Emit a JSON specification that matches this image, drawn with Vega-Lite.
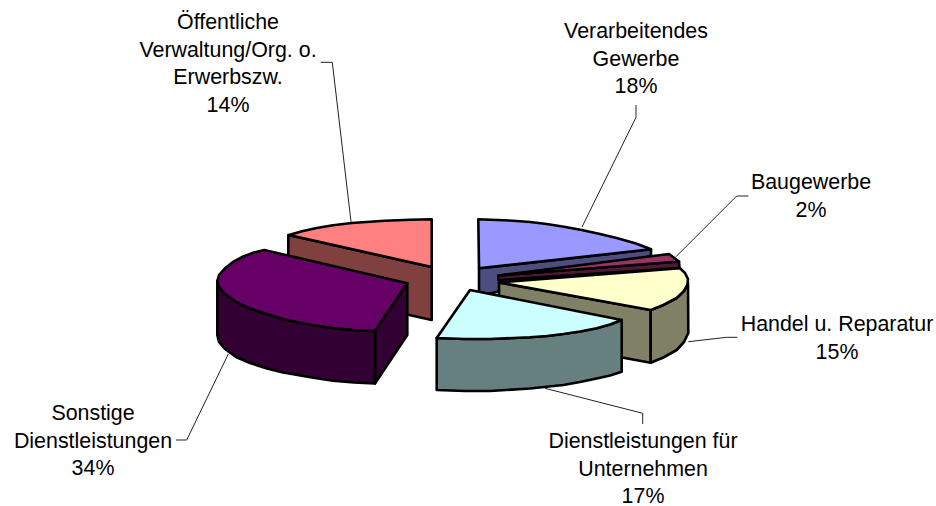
{"$schema":"https://vega.github.io/schema/vega-lite/v6.json","width":936,"height":506,"padding":0,"autosize":{"type":"none"},"background":"white","view":{"stroke":null},
"datasets":{"faces":[
{"face":"Pink side","vertex":1,"u":288.3,"v":235},{"face":"Pink side","vertex":2,"u":431.7,"v":267},{"face":"Pink side","vertex":3,"u":431.7,"v":320},{"face":"Pink side","vertex":4,"u":288.3,"v":288},
{"face":"Pink top","vertex":1,"u":431.7,"v":267},{"face":"Pink top","vertex":2,"u":431.7,"v":219.3},{"face":"Pink top","vertex":3,"u":410,"v":219.8},{"face":"Pink top","vertex":4,"u":385,"v":220.8},{"face":"Pink top","vertex":5,"u":351.7,"v":223},{"face":"Pink top","vertex":6,"u":333,"v":225.3},{"face":"Pink top","vertex":7,"u":316.7,"v":228},{"face":"Pink top","vertex":8,"u":302,"v":231.3},{"face":"Pink top","vertex":9,"u":289,"v":235},
{"face":"Blue side","vertex":1,"u":479,"v":268.3},{"face":"Blue side","vertex":2,"u":651,"v":249.3},{"face":"Blue side","vertex":3,"u":651,"v":256},{"face":"Blue side","vertex":4,"u":479,"v":296},
{"face":"Blue top","vertex":1,"u":479,"v":268.3},{"face":"Blue top","vertex":2,"u":478.3,"v":219.3},{"face":"Blue top","vertex":3,"u":513.3,"v":220.7},{"face":"Blue top","vertex":4,"u":530,"v":222},{"face":"Blue top","vertex":5,"u":546.7,"v":224},{"face":"Blue top","vertex":6,"u":564,"v":226.7},{"face":"Blue top","vertex":7,"u":581.7,"v":230},{"face":"Blue top","vertex":8,"u":600,"v":234},{"face":"Blue top","vertex":9,"u":616.7,"v":238},{"face":"Blue top","vertex":10,"u":636,"v":243.5},{"face":"Blue top","vertex":11,"u":651,"v":249.3},
{"face":"Maroon side","vertex":1,"u":498.3,"v":275.5},{"face":"Maroon side","vertex":2,"u":679,"v":261.5},{"face":"Maroon side","vertex":3,"u":679.5,"v":268},{"face":"Maroon side","vertex":4,"u":498.3,"v":280},
{"face":"Maroon top","vertex":1,"u":498.3,"v":275.5},{"face":"Maroon top","vertex":2,"u":669,"v":254},{"face":"Maroon top","vertex":3,"u":679,"v":261.5},
{"face":"Yellow side","vertex":1,"u":499,"v":282.5},{"face":"Yellow side","vertex":2,"u":650.7,"v":310},{"face":"Yellow side","vertex":3,"u":650.7,"v":362.7},{"face":"Yellow side","vertex":4,"u":499,"v":335},
{"face":"Yellow rim","vertex":1,"u":650.7,"v":310},{"face":"Yellow rim","vertex":2,"u":663.3,"v":305},{"face":"Yellow rim","vertex":3,"u":676.7,"v":298},{"face":"Yellow rim","vertex":4,"u":684,"v":291},{"face":"Yellow rim","vertex":5,"u":688,"v":283},{"face":"Yellow rim","vertex":6,"u":688.3,"v":333},{"face":"Yellow rim","vertex":7,"u":684,"v":342},{"face":"Yellow rim","vertex":8,"u":676.7,"v":350},{"face":"Yellow rim","vertex":9,"u":663.3,"v":357.5},{"face":"Yellow rim","vertex":10,"u":650.7,"v":362.7},
{"face":"Yellow top","vertex":1,"u":499,"v":282.5},{"face":"Yellow top","vertex":2,"u":680,"v":268.3},{"face":"Yellow top","vertex":3,"u":685,"v":273},{"face":"Yellow top","vertex":4,"u":688,"v":279},{"face":"Yellow top","vertex":5,"u":687.3,"v":285},{"face":"Yellow top","vertex":6,"u":684,"v":291},{"face":"Yellow top","vertex":7,"u":676.7,"v":298},{"face":"Yellow top","vertex":8,"u":663.3,"v":305},{"face":"Yellow top","vertex":9,"u":650.7,"v":310},
{"face":"Cyan side","vertex":1,"u":436.7,"v":338},{"face":"Cyan side","vertex":2,"u":465,"v":339},{"face":"Cyan side","vertex":3,"u":490,"v":339},{"face":"Cyan side","vertex":4,"u":530,"v":337.3},{"face":"Cyan side","vertex":5,"u":547,"v":336},{"face":"Cyan side","vertex":6,"u":563.3,"v":334},{"face":"Cyan side","vertex":7,"u":580,"v":331.5},{"face":"Cyan side","vertex":8,"u":596.7,"v":328.3},{"face":"Cyan side","vertex":9,"u":610,"v":324.5},{"face":"Cyan side","vertex":10,"u":621.7,"v":320},{"face":"Cyan side","vertex":11,"u":621.7,"v":371.7},{"face":"Cyan side","vertex":12,"u":610,"v":375.5},{"face":"Cyan side","vertex":13,"u":596.7,"v":378.5},{"face":"Cyan side","vertex":14,"u":580,"v":382},{"face":"Cyan side","vertex":15,"u":563.3,"v":385},{"face":"Cyan side","vertex":16,"u":530,"v":388.5},{"face":"Cyan side","vertex":17,"u":490,"v":391},{"face":"Cyan side","vertex":18,"u":465,"v":391},{"face":"Cyan side","vertex":19,"u":436.7,"v":390},
{"face":"Cyan top","vertex":1,"u":470,"v":290},{"face":"Cyan top","vertex":2,"u":621.7,"v":320},{"face":"Cyan top","vertex":3,"u":610,"v":324.5},{"face":"Cyan top","vertex":4,"u":596.7,"v":328.3},{"face":"Cyan top","vertex":5,"u":580,"v":331.5},{"face":"Cyan top","vertex":6,"u":563.3,"v":334},{"face":"Cyan top","vertex":7,"u":547,"v":336},{"face":"Cyan top","vertex":8,"u":530,"v":337.3},{"face":"Cyan top","vertex":9,"u":490,"v":339},{"face":"Cyan top","vertex":10,"u":465,"v":339},{"face":"Cyan top","vertex":11,"u":436.7,"v":338},
{"face":"Purple side","vertex":1,"u":375,"v":331},{"face":"Purple side","vertex":2,"u":407.3,"v":283.3},{"face":"Purple side","vertex":3,"u":407.3,"v":335},{"face":"Purple side","vertex":4,"u":375,"v":383.5},
{"face":"Purple rim","vertex":1,"u":217.3,"v":281},{"face":"Purple rim","vertex":2,"u":219,"v":287},{"face":"Purple rim","vertex":3,"u":225,"v":294},{"face":"Purple rim","vertex":4,"u":236,"v":302},{"face":"Purple rim","vertex":5,"u":250,"v":308.5},{"face":"Purple rim","vertex":6,"u":267,"v":314},{"face":"Purple rim","vertex":7,"u":283,"v":319},{"face":"Purple rim","vertex":8,"u":300,"v":322.7},{"face":"Purple rim","vertex":9,"u":312,"v":325},{"face":"Purple rim","vertex":10,"u":333,"v":328},{"face":"Purple rim","vertex":11,"u":354,"v":330},{"face":"Purple rim","vertex":12,"u":375,"v":331},{"face":"Purple rim","vertex":13,"u":375,"v":383.5},{"face":"Purple rim","vertex":14,"u":354,"v":382.5},{"face":"Purple rim","vertex":15,"u":333,"v":380.7},{"face":"Purple rim","vertex":16,"u":312,"v":377.5},{"face":"Purple rim","vertex":17,"u":283,"v":372.5},{"face":"Purple rim","vertex":18,"u":267,"v":368.5},{"face":"Purple rim","vertex":19,"u":250,"v":363},{"face":"Purple rim","vertex":20,"u":236,"v":357},{"face":"Purple rim","vertex":21,"u":225,"v":349},{"face":"Purple rim","vertex":22,"u":219,"v":342},{"face":"Purple rim","vertex":23,"u":217.3,"v":335},
{"face":"Purple top","vertex":1,"u":264.3,"v":250},{"face":"Purple top","vertex":2,"u":407.3,"v":283.3},{"face":"Purple top","vertex":3,"u":375,"v":331},{"face":"Purple top","vertex":4,"u":354,"v":330},{"face":"Purple top","vertex":5,"u":333,"v":328},{"face":"Purple top","vertex":6,"u":312,"v":325},{"face":"Purple top","vertex":7,"u":300,"v":322.7},{"face":"Purple top","vertex":8,"u":283,"v":319},{"face":"Purple top","vertex":9,"u":267,"v":314},{"face":"Purple top","vertex":10,"u":250,"v":308.5},{"face":"Purple top","vertex":11,"u":236,"v":302},{"face":"Purple top","vertex":12,"u":225,"v":294},{"face":"Purple top","vertex":13,"u":219,"v":287},{"face":"Purple top","vertex":14,"u":217.3,"v":281},{"face":"Purple top","vertex":15,"u":219,"v":275},{"face":"Purple top","vertex":16,"u":225,"v":268.3},{"face":"Purple top","vertex":17,"u":233,"v":262},{"face":"Purple top","vertex":18,"u":243.3,"v":256.5},{"face":"Purple top","vertex":19,"u":254,"v":252.5}
],
"leaders":[
{"slice":"Verarbeitendes Gewerbe","vertex":1,"u":636,"v":105},{"slice":"Verarbeitendes Gewerbe","vertex":2,"u":636,"v":117.3},{"slice":"Verarbeitendes Gewerbe","vertex":3,"u":582,"v":227},
{"slice":"Baugewerbe","vertex":1,"u":748.3,"v":196},{"slice":"Baugewerbe","vertex":2,"u":736.7,"v":196},{"slice":"Baugewerbe","vertex":3,"u":676,"v":256.7},
{"slice":"Handel","vertex":1,"u":737.3,"v":337.3},{"slice":"Handel","vertex":2,"u":726.7,"v":337.3},{"slice":"Handel","vertex":3,"u":688.3,"v":341.7},
{"slice":"Dienstleistungen U","vertex":1,"u":642.7,"v":424},{"slice":"Dienstleistungen U","vertex":2,"u":642.7,"v":413.3},{"slice":"Dienstleistungen U","vertex":3,"u":545,"v":388.3},
{"slice":"Sonstige","vertex":1,"u":176,"v":440},{"slice":"Sonstige","vertex":2,"u":186.7,"v":440},{"slice":"Sonstige","vertex":3,"u":228.3,"v":354},
{"slice":"Oeffentliche","vertex":1,"u":320.7,"v":62.3},{"slice":"Oeffentliche","vertex":2,"u":332.3,"v":62.3},{"slice":"Oeffentliche","vertex":3,"u":351,"v":221.7}
],
"labels":[
{"label":"Öffentliche\nVerwaltung/Org. o.\nErwerbszw.\n14%","u":228,"v":23},
{"label":"Verarbeitendes\nGewerbe\n18%","u":636,"v":32},
{"label":"Baugewerbe\n2%","u":811,"v":183},
{"label":"Handel u. Reparatur\n15%","u":837,"v":325},
{"label":"Dienstleistungen für\nUnternehmen\n17%","u":643,"v":442},
{"label":"Sonstige\nDienstleistungen\n34%","u":93,"v":414}
]},
"layer":[
{"data":{"name":"faces"},"mark":{"type":"line","interpolate":"linear-closed","stroke":"black","strokeWidth":2.6,"strokeJoin":"round"},
"encoding":{"x":{"field":"u","type":"quantitative","scale":{"domain":[0,936],"nice":false,"zero":false},"axis":null},"y":{"field":"v","type":"quantitative","scale":{"domain":[506,0],"nice":false,"zero":false},"axis":null},"order":{"field":"vertex","type":"quantitative"},"detail":{"field":"face"},
"fill":{"field":"face","type":"nominal","legend":null,"scale":{"domain":["Pink side","Pink top","Blue side","Blue top","Maroon side","Maroon top","Yellow side","Yellow rim","Yellow top","Cyan side","Cyan top","Purple side","Purple rim","Purple top"],"range":["#804040","#FF8080","#4D4D80","#9999FF","#4D1A33","#993366","#808066","#808066","#FFFFCC","#668080","#CCFFFF","#330033","#330033","#660066"]}}}},
{"data":{"name":"leaders"},"mark":{"type":"line","stroke":"#222","strokeWidth":1},
"encoding":{"x":{"field":"u","type":"quantitative"},"y":{"field":"v","type":"quantitative"},"order":{"field":"vertex","type":"quantitative"},"detail":{"field":"slice"}}},
{"data":{"name":"labels"},"mark":{"type":"text","font":"Liberation Sans","fontSize":21.4,"lineHeight":27.5,"lineBreak":"\n","align":"center","baseline":"middle","color":"black"},
"encoding":{"x":{"field":"u","type":"quantitative"},"y":{"field":"v","type":"quantitative"},"text":{"field":"label"}}}
]}
